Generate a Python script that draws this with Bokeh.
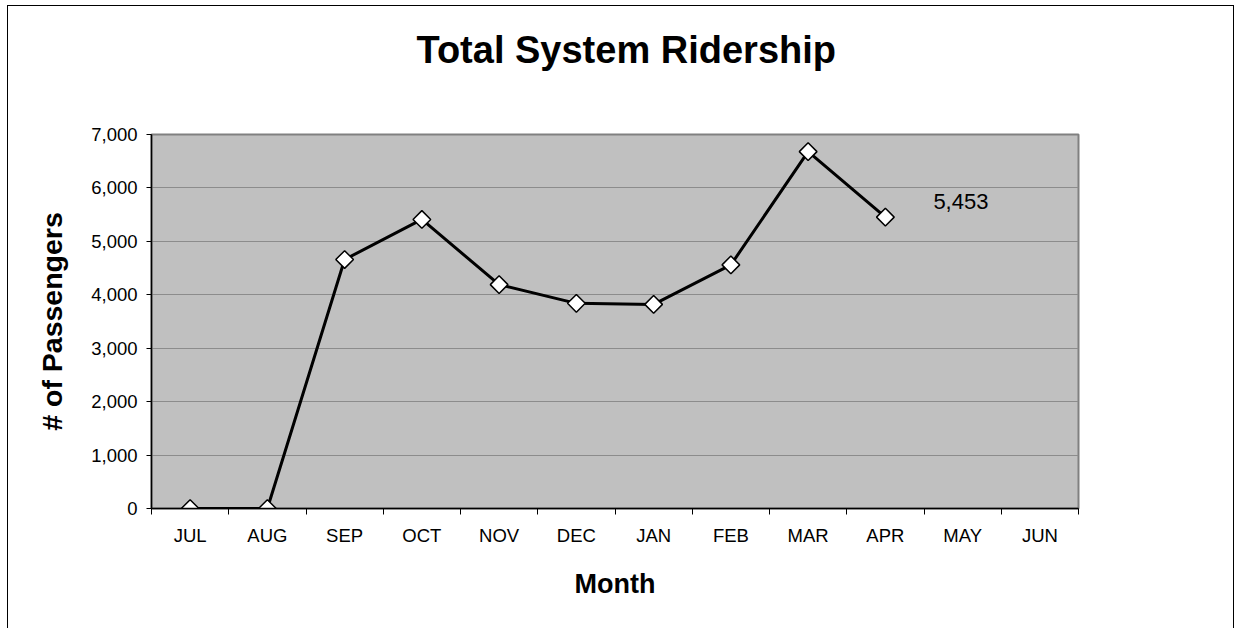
from bokeh.plotting import figure
from bokeh.models import FixedTicker, NumeralTickFormatter, Range1d, ColumnDataSource, Title
from bokeh.embed import file_html
from bokeh.resources import INLINE
from bokeh.core.properties import value
import numpy as np

# ---- data ----
months = ["JUL", "AUG", "SEP", "OCT", "NOV", "DEC", "JAN", "FEB", "MAR", "APR", "MAY", "JUN"]
riders = [0, 0, 4660, 5410, 4190, 3840, 3820, 4560, 6680, 5453]
label_month = ["APR"]
label_value = [5453]
label_text = ["5,453"]
y_ticks = [0, 1000, 2000, 3000, 4000, 5000, 6000, 7000]
title_text = "Total System Ridership"

FONT = "Liberation Sans"

pos = {m: i + 0.5 for i, m in enumerate(months)}
src = ColumnDataSource(dict(x=[pos[m] for m in months[:len(riders)]], y=riders))
lab = ColumnDataSource(dict(x=[pos[m] for m in label_month], y=label_value, t=label_text))

p = figure(
    frame_width=927, frame_height=374,
    min_border_left=143, min_border_right=155, min_border_top=128, min_border_bottom=120,
    x_range=Range1d(0, len(months)), y_range=Range1d(0, 7000),
    output_backend="svg", toolbar_location=None,
    background_fill_color="#C0C0C0", border_fill_color="white",
)
p.styles = {"border": "1px solid black", "border-bottom": "none",
            "margin-left": "7px", "margin-top": "5px"}

# main title (outer slot)
p.title.text = title_text
p.title.align = "left"
p.title.offset = 265
p.title.standoff = 36
p.title.text_font = FONT
p.title.text_font_size = "38px"
p.title.text_font_style = "bold"
p.title.text_color = "black"

# spacer between frame and title
spacer = Title(text=" ", text_font_size="1px", standoff=43)
p.add_layout(spacer, "above")

p.outline_line_color = "#808080"
p.outline_line_width = 2

# x axis: labels at category centres, tick marks at boundaries
xa = p.xaxis[0]
xa.ticker = FixedTicker(ticks=[pos[m] for m in months], minor_ticks=list(range(len(months) + 1)))
xa.major_label_overrides = {pos[m]: m for m in months}
xa.major_tick_line_color = None
xa.major_tick_out = 6
xa.major_tick_in = 0
xa.minor_tick_line_color = "black"
xa.minor_tick_out = 6
xa.minor_tick_in = 0
xa.axis_line_color = "black"
xa.axis_line_width = 1.5
xa.major_label_text_font = FONT
xa.major_label_text_font_size = "18.5px"
xa.major_label_text_color = "black"
xa.major_label_standoff = 10
xa.axis_label = "Month"
xa.axis_label_text_font = FONT
xa.axis_label_text_font_size = "27px"
xa.axis_label_text_font_style = "bold"
xa.axis_label_text_color = "black"
xa.axis_label_standoff = 20

ya = p.yaxis[0]
ya.ticker = FixedTicker(ticks=y_ticks)
ya.formatter = NumeralTickFormatter(format="0,0")
ya.minor_tick_line_color = None
ya.major_tick_out = 5
ya.major_tick_in = 0
ya.major_tick_line_color = "black"
ya.axis_line_color = "black"
ya.axis_line_width = 1.5
ya.major_label_text_font = FONT
ya.major_label_text_font_size = "18.5px"
ya.major_label_text_color = "black"
ya.major_label_standoff = 9
ya.axis_label = "# of Passengers"
ya.axis_label_text_font = FONT
ya.axis_label_text_font_size = "28.5px"
ya.axis_label_text_font_style = "bold"
ya.axis_label_text_color = "black"
ya.axis_label_standoff = 20

p.xgrid.grid_line_color = None
p.ygrid.ticker = FixedTicker(ticks=y_ticks)
p.ygrid.grid_line_color = "#8C8C8C"
p.ygrid.grid_line_width = 1

p.line("x", "y", source=src, line_color="black", line_width=3)
p.scatter("x", "y", source=src, marker="square", angle=np.pi / 4, size=12.5,
          fill_color="white", line_color="black", line_width=1.5)

p.text("x", "y", text="t", source=lab, x_offset=48, y_offset=-16,
       text_font=value(FONT), text_font_size="22px", text_color="black",
       text_align="left", text_baseline="middle")

open("out.html", "w").write(file_html(p, INLINE))
